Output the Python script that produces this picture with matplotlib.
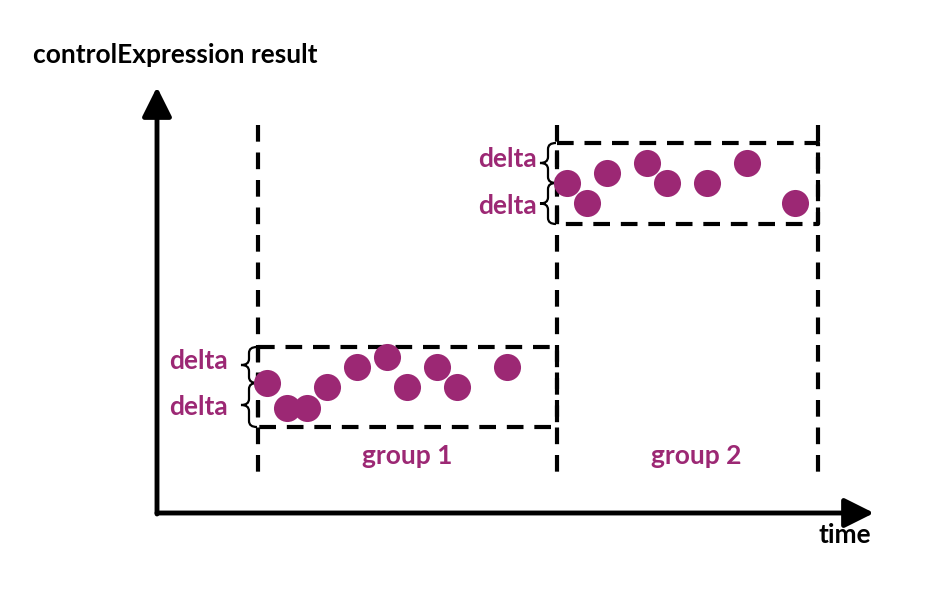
import matplotlib
matplotlib.use("Agg")
import matplotlib.pyplot as plt
from matplotlib.path import Path
from matplotlib.patches import PathPatch

# dati (coordinate, in pixel)
g1_x = [267, 287, 307, 327, 357, 387, 407, 437, 457, 507]
g1_y = [383, 408, 408, 387, 367, 357, 387, 367, 387, 367]
g2_x = [567, 587, 607, 647, 667, 707, 747, 795]
g2_y = [183, 203, 173, 163, 183, 183, 163, 203]

group_bounds = [258, 557, 818]
group_labels = ["group 1", "group 2"]
group_label_x = [407, 696]
box1 = (258, 557, 347, 427)   # x0, x1, y_top, y_bot
box2 = (557, 818, 143, 224)

purple = "#9c2874"
font = "Lato"
fs = 19

fig = plt.figure(figsize=(9.28, 5.94), dpi=100)
ax = fig.add_axes([0, 0, 1, 1])
ax.set_xlim(0, 928)
ax.set_ylim(594, 0)
ax.axis("off")

# assi con frecce
astyle = "-|>,head_length=1.8,head_width=0.9"
ax.annotate("", xy=(157, 87), xytext=(157, 514),
            arrowprops=dict(arrowstyle=astyle, lw=3.5, color="black", shrinkA=0, shrinkB=0))
ax.annotate("", xy=(874, 513), xytext=(157, 513),
            arrowprops=dict(arrowstyle=astyle, lw=3.5, color="black", shrinkA=0, shrinkB=0))

ax.text(33, 55, "controlExpression result", fontsize=fs, fontweight="bold", family=font, ha="left", va="center")
ax.text(871, 535, "time", fontsize=fs, fontweight="bold", family=font, ha="right", va="center")

# linee verticali tratteggiate
dash = (0, (4, 2.6))
for xb in group_bounds:
    ax.plot([xb, xb], [125, 472], color="black", lw=3, linestyle=dash)

# rettangoli
for (x0, x1, yt, yb) in [box1, box2]:
    ax.plot([x0, x1, x1, x0, x0], [yt, yt, yb, yb, yt], color="black", lw=3, linestyle=dash)

# etichette gruppi
for xc, lab in zip(group_label_x, group_labels):
    ax.text(xc, 456, lab, fontsize=fs, fontweight="bold", family=font, color=purple, ha="center", va="center")

# punti
ax.scatter(g1_x, g1_y, s=380, color=purple, zorder=5, linewidths=0)
ax.scatter(g2_x, g2_y, s=380, color=purple, zorder=5, linewidths=0)


def brace(xr, yt, yb, w=16):
    # parentesi graffa verticale che punta a sinistra
    ym = (yt + yb) / 2
    xm = xr - w / 2
    xt = xr - w
    r = 6
    verts = [(xr, yt), (xm, yt), (xm, yt + r),
             (xm, ym - r), (xm, ym), (xt, ym),
             (xm, ym), (xm, ym + r),
             (xm, yb - r), (xm, yb), (xr, yb)]
    codes = [Path.MOVETO, Path.CURVE3, Path.CURVE3,
             Path.LINETO, Path.CURVE3, Path.CURVE3,
             Path.CURVE3, Path.CURVE3,
             Path.LINETO, Path.CURVE3, Path.CURVE3]
    ax.add_patch(PathPatch(Path(verts, codes), fill=False, lw=1.6, color="black"))


for (x0, x1, yt, yb), ysplit, xlab in [(box1, 383, 228), (box2, 183, 537)]:
    brace(x0 - 1, yt, ysplit)
    brace(x0 - 1, ysplit, yb)
    ax.text(xlab, (yt + ysplit) / 2 - 4, "delta", fontsize=fs, fontweight="bold", family=font, color=purple, ha="right", va="center")
    ax.text(xlab, (ysplit + yb) / 2 + 2, "delta", fontsize=fs, fontweight="bold", family=font, color=purple, ha="right", va="center")

fig.savefig("out.png", dpi=100)
